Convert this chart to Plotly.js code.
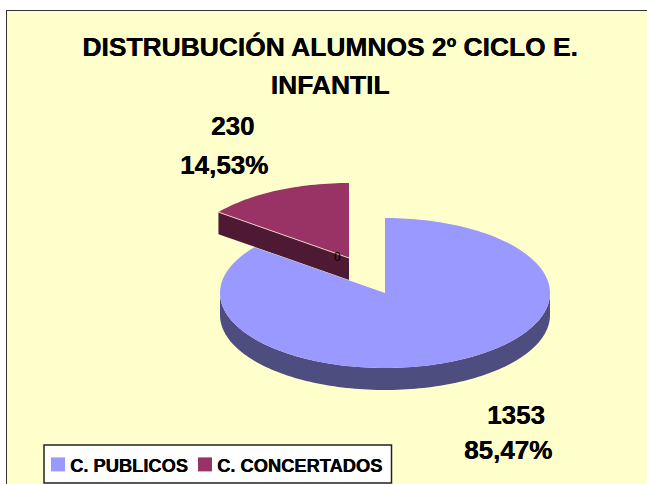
<!DOCTYPE html>
<html><head><meta charset="utf-8">
<script src="https://cdn.plot.ly/plotly-3.0.1.min.js"></script>
<style>html,body{margin:0;padding:0;background:#fff}#c{width:647px;height:484px}</style>
</head><body><div id="c"></div>
<script>
// Data
var categories = ['C. PUBLICOS', 'C. CONCERTADOS'];
var values = [1353, 230];
var percentLabels = ['85,47%', '14,53%'];
var zeroLabel = '0';
var sliceColors = ['#9999FF', '#993366'];
var wallColors = ['#4D4D80', '#4D1933'];
var titleLines = ['DISTRUBUCIÓN ALUMNOS 2º CICLO E.', 'INFANTIL'];

// Layout constants (pixels of the 647x484 page)
var W = 647, H = 484, ML = 7, MT = 11;
var CX = 385, CY = 293, RX = 165, RY = 75;
var DEPTH = 22 / RY, PULL_X = -36 / RX, PULL_Y = 35 / RY;
var FONT = '"Liberation Sans", Arial, sans-serif';
var HEAVY = '0.4px 0 0 #000';
function px(p){ return (p - ML) / (W - ML); }
function py(p){ return (H - p) / (H - MT); }

var total = values[0] + values[1];
var cut = values[0] / total * 360;
function arc(a0, a1, dx, dy){
  var xs = [], ys = [], n = Math.max(2, Math.ceil(Math.abs(a1 - a0) / 1.5));
  for (var i = 0; i <= n; i++){
    var t = (a0 + (a1 - a0) * i / n) * Math.PI / 180;
    xs.push(dx + Math.sin(t)); ys.push(dy + Math.cos(t));
  }
  return {x: xs, y: ys};
}
function poly(x, y, color){
  return {type:'scatter', mode:'none', x:x, y:y, fill:'toself', fillcolor:color,
          hoverinfo:'skip', showlegend:false};
}
// Pulled slice
var pulledTop = arc(cut, 360, PULL_X, PULL_Y);
var edge = {x: pulledTop.x[0], y: pulledTop.y[0]};
var redWall = poly(
  [edge.x, PULL_X, PULL_X, edge.x],
  [edge.y, PULL_Y, PULL_Y - DEPTH, edge.y - DEPTH], wallColors[1]);
var redTop = poly(
  [PULL_X].concat(pulledTop.x).concat([PULL_X]),
  [PULL_Y].concat(pulledTop.y).concat([PULL_Y]), sliceColors[1]);
var redEdge = {type:'scatter', mode:'lines', x:[edge.x, PULL_X], y:[edge.y, PULL_Y],
  line:{color:'#EBCBC0', width:1}, hoverinfo:'skip', showlegend:false};
// Main slice
var wallUp = arc(90, 270, 0, 0), wallDown = arc(270, 90, 0, -DEPTH);
var blueWall = poly(wallUp.x.concat(wallDown.x), wallUp.y.concat(wallDown.y), wallColors[0]);
var blueArc = arc(0, cut, 0, 0);
var blueTop = poly([0].concat(blueArc.x).concat([0]), [0].concat(blueArc.y).concat([0]), sliceColors[0]);
// Legend entries
function legendEntry(i){
  return {type:'scatter', mode:'markers', x:[null], y:[null], name:categories[i],
    marker:{symbol:'square', size:14, color:sliceColors[i]}, hoverinfo:'skip', showlegend:true};
}
var traces = [redWall, redTop, redEdge, blueWall, blueTop, legendEntry(0), legendEntry(1)];

function label(text, x, y, size){
  return {text:text, xref:'paper', yref:'paper', x:px(x), y:py(y), showarrow:false,
    xanchor:'center', yanchor:'middle', font:{family:FONT, size:size||26, color:'#000'}};
}
function bold(text, x, y){
  var a = label('<b>'+text+'</b>', x, y);
  a.font.shadow = HEAVY;
  return a;
}
var layout = {
  width:W, height:H, autosize:false,
  margin:{l:ML, t:MT, r:0, b:0, pad:0},
  paper_bgcolor:'#FFFFFF', plot_bgcolor:'#FFFFCC',
  xaxis:{range:[(ML-CX)/RX, (W-CX)/RX], side:'top', showline:true, linecolor:'#333333', linewidth:1.5,
    showgrid:false, zeroline:false, showticklabels:false, ticks:'', fixedrange:true},
  yaxis:{range:[(CY-H)/RY, (CY-MT)/RY], showline:true, linecolor:'#333333', linewidth:1.5,
    showgrid:false, zeroline:false, showticklabels:false, ticks:'', fixedrange:true},
  title:{text:'<b>'+titleLines[0]+'<br>'+titleLines[1]+'</b>', xref:'paper', yref:'paper', x:px(330), y:py(47),
    xanchor:'center', yanchor:'middle', automargin:false,
    font:{family:FONT, size:26.4, color:'#000', shadow:HEAVY}},
  showlegend:true,
  legend:{orientation:'h', xref:'paper', yref:'paper', x:px(38), y:py(446), xanchor:'left', yanchor:'top',
    bgcolor:'rgba(0,0,0,0)', borderwidth:0, font:{family:FONT, size:18.3, color:'#000', weight:700, shadow:HEAVY},
    traceorder:'normal'},
  shapes:[{type:'rect', xref:'paper', yref:'paper', x0:px(44), x1:px(391.5), y0:py(445), y1:py(483),
    fillcolor:'#FFFFFF', line:{color:'#222222', width:1.5}, layer:'above'}],
  annotations:[
    bold(values[1], 232, 126),
    bold(percentLabels[1], 224, 165),
    bold(values[0], 516, 415),
    bold(percentLabels[0], 508, 450),
    label(zeroLabel, 337, 257, 12)
  ]
};
Plotly.newPlot('c', traces, layout, {displayModeBar:false, staticPlot:true}).then(function(){
  var gd = document.getElementById('c');
  var lines = gd.querySelectorAll('.gtitle tspan.line');
  if (lines.length === 2){
    lines[0].setAttribute('dy', 0); lines[0].setAttribute('y', 56);
    lines[1].setAttribute('dy', 0); lines[1].setAttribute('y', 94);
  }
  // Tighten the legend: swatch closer to its text, second entry right after the first.
  var items = gd.querySelectorAll('.legend .traces');
  items.forEach(function(it, i){
    var t = it.querySelector('.legendtext');
    if (t) {
      t.setAttribute('x', 32);
      t.querySelectorAll('tspan').forEach(function(s){ if (s.hasAttribute('x')) s.setAttribute('x', 32); });
    }
    if (i === 1) {
      var m = /translate\(\s*([\d.-]+)[ ,]+([\d.-]+)/.exec(it.getAttribute('transform') || '');
      if (m) it.setAttribute('transform', 'translate(147,' + m[2] + ')');
    }
  });
});
</script></body></html>
